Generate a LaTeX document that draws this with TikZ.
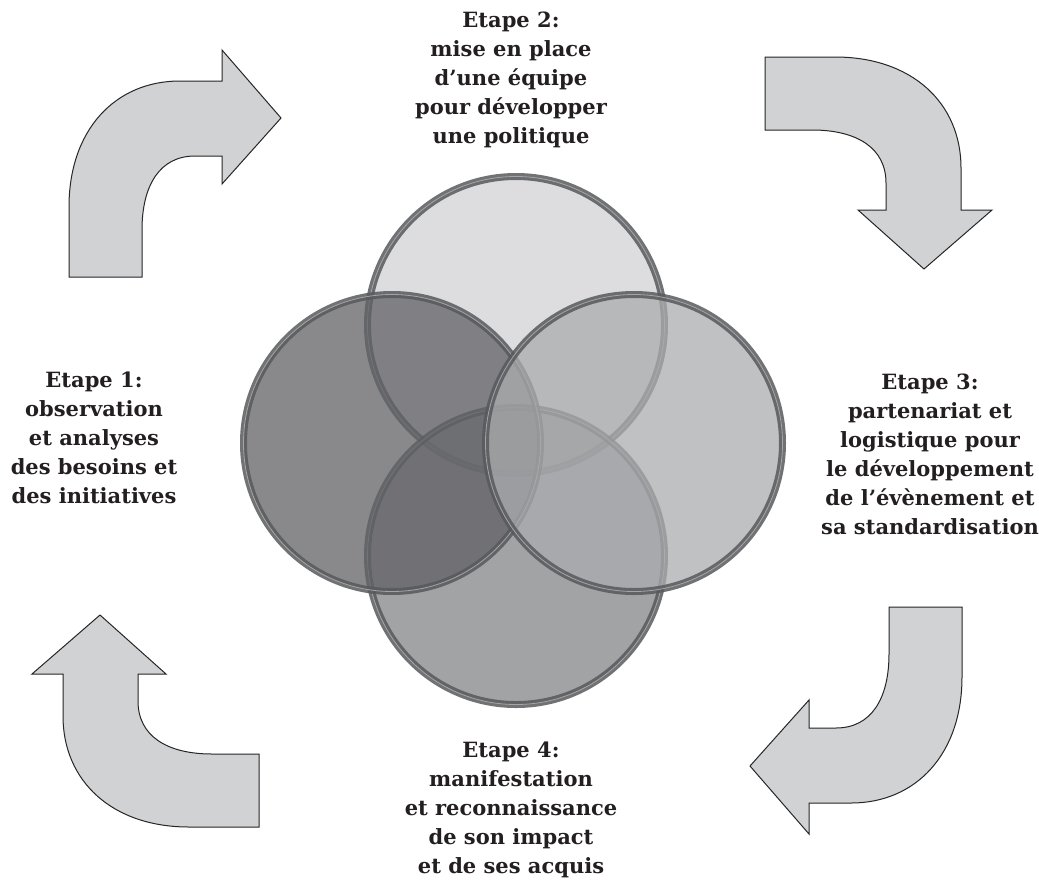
\documentclass[tikz,border=0pt]{standalone}
\usepackage{fontspec}
\setmainfont{DejaVu Serif}
\usetikzlibrary{positioning}
\definecolor{inktext}{RGB}{35,31,32}
\definecolor{ringgray}{RGB}{88,89,92}
\definecolor{ringlight}{RGB}{175,176,178}
\definecolor{arrowfill}{RGB}{209,210,212}
\definecolor{topfill}{RGB}{209,210,212}
\definecolor{bottomfill}{RGB}{131,132,135}
\definecolor{leftfill}{RGB}{97,98,102}
\definecolor{rightfill}{RGB}{171,172,174}

\tikzset{
  stepnote/.style={align=center,inner sep=0pt,text=inktext,
    font=\bfseries\fontsize{10.5}{14.5}\selectfont},
  ringdisc/.style={fill=#1,fill opacity=0.75,draw=ringgray,draw opacity=0.85,
    line width=1.55pt,double=ringlight,double distance=0.4pt},
  arrowbody/.style={fill=arrowfill,draw=black!85,line width=0.5pt,line join=miter},
  bendarrow/.pic={
    \draw[arrowbody] (0,0) -- (0,-70)
      .. controls (0,-147) and (46,-196) .. (111,-196)
      -- (153,-196) -- (153,-227) -- (212,-159) -- (153,-93) -- (153,-121)
      -- (126,-121) .. controls (91,-121) and (73,-92) .. (73,-47)
      -- (73,0) -- cycle;
  }
}

\begin{document}
\begin{tikzpicture}[x=0.5pt,y=-0.5pt]
  \useasboundingbox (0,0) rectangle (1039,879);
  % Cycle arrows
  \pic at (69,277) {bendarrow};
  \pic[rotate=-90] at (765,57) {bendarrow};
  \pic[rotate=180] at (962,607) {bendarrow};
  \pic[rotate=90] at (259,827) {bendarrow};
  % Circles
  \path[ringdisc=topfill] (516,325) circle (148.5);
  \path[ringdisc=bottomfill] (516,556) circle (148.5);
  \path[ringdisc=leftfill] (392,443) circle (148.5);
  \path[ringdisc=rightfill] (634,443) circle (148.5);
  % Steps
  \node[stepnote] (step1) at (94,438)
    {Etape 1:\\observation\\et analyses\\des besoins et\\des initiatives};
  \node[stepnote] (step2) at (511,80)
    {Etape 2:\\mise en place\\d’une équipe\\pour développer\\une politique};
  \node[stepnote] (step3) at (930,454)
    {Etape 3:\\partenariat et\\logistique pour\\le développement\\de l’évènement et\\sa standardisation};
  \node[stepnote] (step4) at (511,810)
    {Etape 4:\\manifestation\\et reconnaissance\\de son impact\\et de ses acquis};
\end{tikzpicture}
\end{document}
